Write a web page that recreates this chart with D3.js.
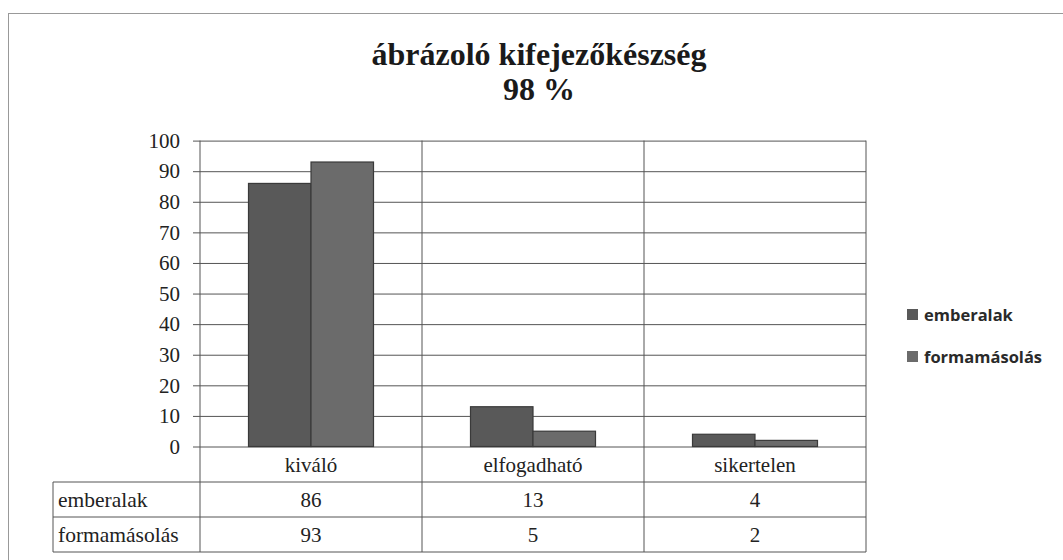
<!DOCTYPE html>
<html>
<head>
<meta charset="utf-8">
<script src="https://cdn.jsdelivr.net/npm/d3@7"></script>
<style>
  html, body { margin: 0; padding: 0; background: #fff; }
  svg { display: block; }
</style>
</head>
<body>
<svg id="chart" width="1063" height="560"></svg>
<script>
// ---- data ----
const titleLines = ["ábrázoló kifejezőkészség", "98 %"];
const categories = ["kiváló", "elfogadható", "sikertelen"];
const seriesNames = ["emberalak", "formamásolás"];
const emberalak = [86, 13, 4];
const formamasolas = [93, 5, 2];
const yTicks = [0, 10, 20, 30, 40, 50, 60, 70, 80, 90, 100];
const seriesColors = ["#595959", "#6b6b6b"];

const seriesValues = [emberalak, formamasolas];

// ---- layout ----
const svg = d3.select("#chart");
const W = 1063, H = 560;
const plot = { left: 200, right: 866, top: 140.6, bottom: 446.5 };
const tableLeft = 53;
const catRowBottom = 482;
const rowH = 35;

svg.append("rect").attr("width", W).attr("height", H).attr("fill", "#fff");

// outer frame
svg.append("rect")
  .attr("x", 8.5).attr("y", 13.5).attr("width", 1200).attr("height", 700)
  .attr("fill", "none").attr("stroke", "#999").attr("stroke-width", 1);

// title
const title = svg.append("text")
  .attr("text-anchor", "middle")
  .attr("font-family", "'Liberation Serif', 'Times New Roman', serif")
  .attr("font-weight", "bold")
  .attr("font-size", 32)
  .attr("fill", "#1a1a1a");
title.append("tspan").attr("x", 539).attr("y", 65).text(titleLines[0]);
title.append("tspan").attr("x", 539).attr("y", 100).text(titleLines[1]);

// scales
const x0 = d3.scaleBand().domain(categories).range([plot.left, plot.right]).padding(0);
const bw = x0.bandwidth();
const groupFrac = 125 / 222;
const x1 = d3.scaleBand().domain(seriesNames)
  .range([bw * (1 - groupFrac) / 2, bw * (1 + groupFrac) / 2]).padding(0);
const y = d3.scaleLinear().domain([0, 100]).range([plot.bottom, plot.top]);

const lineColor = "#555";
const serif = "'Liberation Serif', 'Times New Roman', serif";

// gridlines + y axis (ticks outward)
const yAxis = d3.axisLeft(y).tickValues(yTicks).tickSize(-(plot.right - plot.left)).tickSizeOuter(0).tickPadding(20);
const gY = svg.append("g").attr("transform", `translate(${plot.left},0)`).call(yAxis);
gY.select(".domain").remove();
gY.selectAll(".tick line").attr("stroke", lineColor).attr("stroke-width", 1).attr("x1", -7);
gY.selectAll(".tick text")
  .attr("font-family", serif)
  .attr("font-size", 21).attr("fill", "#222");

// bars
const groups = svg.append("g").selectAll("g")
  .data(categories).join("g")
  .attr("transform", d => `translate(${x0(d)},0)`);
groups.selectAll("rect")
  .data((c, i) => seriesNames.map((s, j) => ({ s, j, v: seriesValues[j][i] })))
  .join("rect")
  .attr("x", d => x1(d.s))
  .attr("y", d => y(d.v))
  .attr("width", x1.bandwidth())
  .attr("height", d => y(0) - y(d.v))
  .attr("fill", d => seriesColors[d.j])
  .attr("stroke", "#3a3a3a")
  .attr("stroke-width", 1.2);

// vertical lines: axis, category dividers, right edge
const tableBottom = catRowBottom + rowH * seriesNames.length;
const vxs = categories.map(c => x0(c)).concat([plot.right]);
svg.append("g").selectAll("line").data(vxs).join("line")
  .attr("x1", d => d).attr("x2", d => d)
  .attr("y1", plot.top).attr("y2", tableBottom)
  .attr("stroke", lineColor).attr("stroke-width", 1);

// table horizontal lines
const hys = d3.range(seriesNames.length + 1).map(i => catRowBottom + i * rowH);
svg.append("g").selectAll("line").data(hys).join("line")
  .attr("x1", tableLeft).attr("x2", plot.right)
  .attr("y1", d => d).attr("y2", d => d)
  .attr("stroke", lineColor).attr("stroke-width", 1);
svg.append("line")
  .attr("x1", tableLeft).attr("x2", tableLeft)
  .attr("y1", catRowBottom).attr("y2", tableBottom)
  .attr("stroke", lineColor).attr("stroke-width", 1);

// category labels
svg.append("g").selectAll("text").data(categories).join("text")
  .attr("x", d => x0(d) + bw / 2).attr("y", 472)
  .attr("text-anchor", "middle")
  .attr("font-family", serif).attr("font-size", 21).attr("fill", "#222")
  .text(d => d);

// table rows
seriesNames.forEach((s, j) => {
  const rowY = catRowBottom + j * rowH + 25;
  svg.append("text").attr("x", tableLeft + 5).attr("y", rowY)
    .attr("font-family", serif).attr("font-size", 21.5).attr("fill", "#222").text(s);
  svg.append("g").selectAll("text").data(categories).join("text")
    .attr("x", d => x0(d) + bw / 2).attr("y", rowY)
    .attr("text-anchor", "middle")
    .attr("font-family", serif).attr("font-size", 21).attr("fill", "#222")
    .text((d, i) => seriesValues[j][i]);
});

// legend
const leg = svg.append("g").selectAll("g").data(seriesNames).join("g")
  .attr("transform", (d, i) => `translate(907,${315 + i * 42})`);
leg.append("rect").attr("x", 0).attr("y", -6).attr("width", 11).attr("height", 11)
  .attr("fill", (d, i) => seriesColors[i]);
leg.append("text").attr("x", 17).attr("y", 5.5)
  .attr("font-family", "'Open Sans', sans-serif").attr("font-weight", "bold")
  .attr("font-size", 16.5).attr("fill", "#2a2a2a")
  .text(d => d);
</script>
</body>
</html>
